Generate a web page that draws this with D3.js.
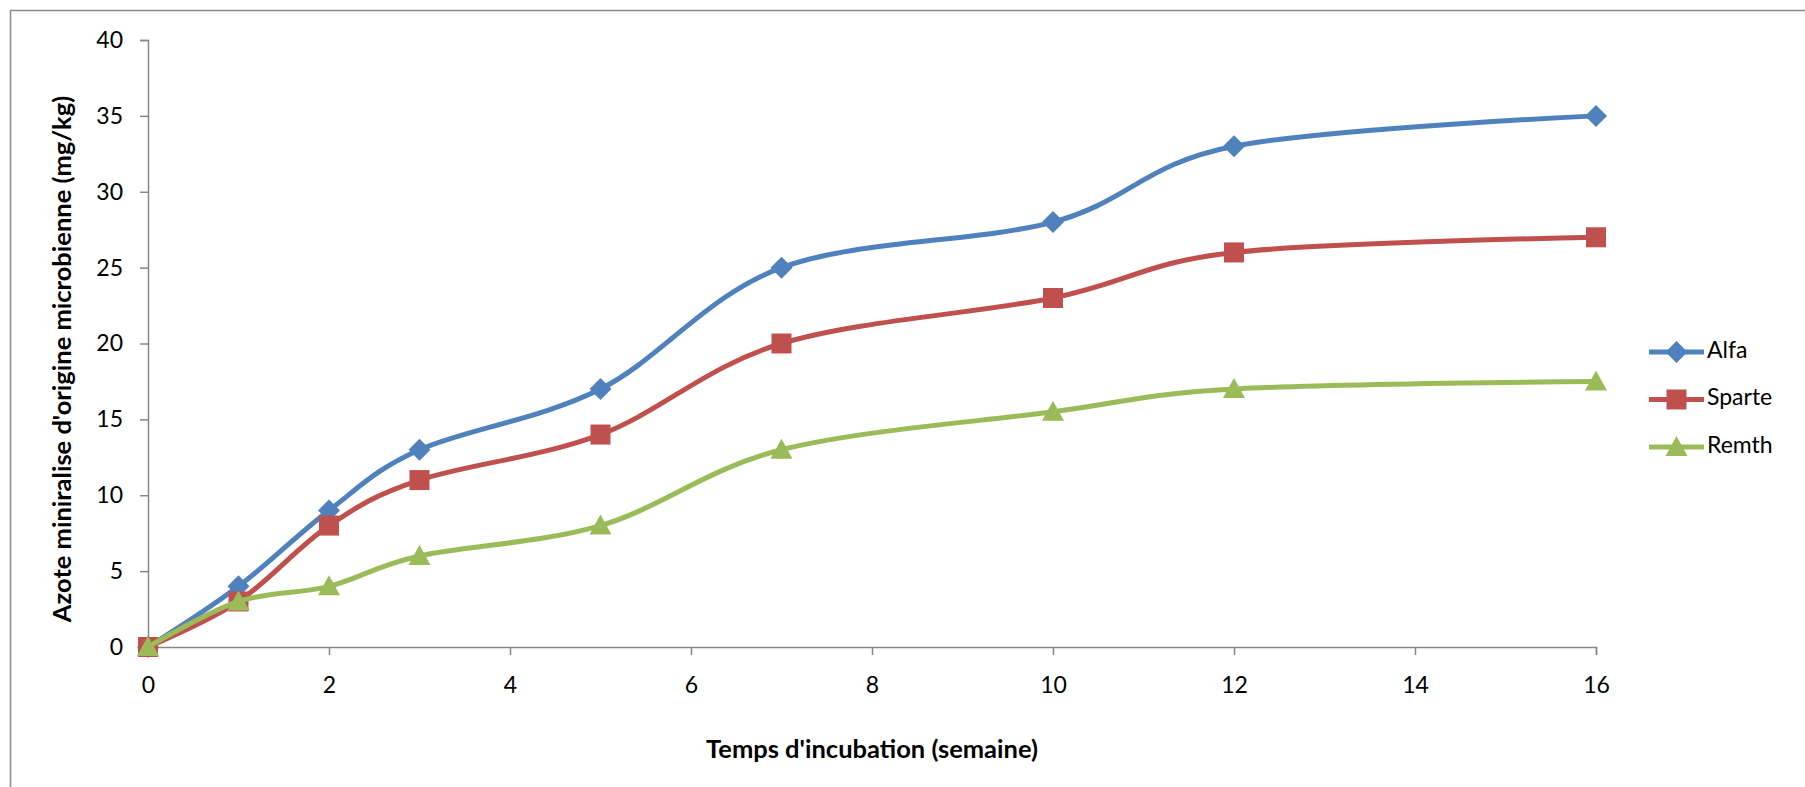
<!DOCTYPE html>
<html>
<head>
<meta charset="utf-8">
<script src="https://cdn.jsdelivr.net/npm/d3@7"></script>
<style>
  html, body { margin: 0; padding: 0; background: #fff; }
  svg { display: block; }
  text { font-family: Lato, "Open Sans", sans-serif; fill: #000; }
</style>
</head>
<body>
<svg id="chart" width="1805" height="787"></svg>
<script>
// Incubation time (weeks) and mineralised microbial nitrogen (mg/kg)
const weeks  = [0, 1, 2, 3, 5, 7, 10, 12, 16];
const alfa   = [0, 4, 9, 13, 17, 25, 28, 33, 35];
const sparte = [0, 3, 8, 11, 14, 20, 23, 26, 27];
const remth  = [0, 3, 4, 6, 8, 13, 15.5, 17, 17.5];
const seriesNames = ["Alfa", "Sparte", "Remth"];
const xTicks = [0, 2, 4, 6, 8, 10, 12, 14, 16];
const yTicks = [0, 5, 10, 15, 20, 25, 30, 35, 40];

const colors  = { Alfa: "#4F81BD", Sparte: "#C0504D", Remth: "#9BBB59" };
const shapes  = { Alfa: "diamond", Sparte: "square", Remth: "triangle" };
const values  = { Alfa: alfa, Sparte: sparte, Remth: remth };

const svg = d3.select("#chart");
const axisColor = "#868686";
const tickFont = 23;
const titleFont = 25.5;

// Outer frame (runs past the right and bottom edges)
svg.append("rect")
  .attr("x", 10.5).attr("y", 10.5)
  .attr("width", 1900).attr("height", 900)
  .attr("fill", "none").attr("stroke", "#8c8c8c").attr("stroke-width", 1.5);

const x = d3.scaleLinear().domain([0, 16]).range([148, 1596]);
const y = d3.scaleLinear().domain([0, 40]).range([647, 40]);

// Y axis
const yAxis = svg.append("g").attr("transform", `translate(${x(0)},0)`)
  .call(d3.axisLeft(y).tickValues(yTicks).tickSize(8).tickPadding(17).tickFormat(d3.format("d")));
yAxis.select(".domain").attr("stroke", axisColor).attr("stroke-width", 1.5);
yAxis.selectAll(".tick line").attr("stroke", axisColor).attr("stroke-width", 1.5);
yAxis.selectAll(".tick text").attr("font-size", tickFont).attr("font-family", "Lato, sans-serif").attr("fill", "#000");

// X axis
const xAxis = svg.append("g").attr("transform", `translate(0,${y(0)})`)
  .call(d3.axisBottom(x).tickValues(xTicks).tickSize(8).tickPadding(22).tickFormat(d3.format("d")));
xAxis.select(".domain").attr("stroke", axisColor).attr("stroke-width", 1.5);
xAxis.selectAll(".tick line").attr("stroke", axisColor).attr("stroke-width", 1.5);
xAxis.selectAll(".tick text").attr("font-size", tickFont).attr("font-family", "Lato, sans-serif").attr("fill", "#000");

// Axis titles
svg.append("text")
  .attr("x", (x(0) + x(16)) / 2).attr("y", 751)
  .attr("text-anchor", "middle").attr("dominant-baseline", "middle")
  .attr("font-size", titleFont).attr("font-weight", "bold")
  .text("Temps d'incubation (semaine)");

svg.append("text")
  .attr("transform", "translate(64,359) rotate(-90)")
  .attr("text-anchor", "middle").attr("dominant-baseline", "middle")
  .attr("font-size", titleFont).attr("font-weight", "bold")
  .text("Azote miniralise d'origine microbienne (mg/kg)");

// Marker path generator, centred on the origin
function markerPath(shape) {
  if (shape === "diamond") return "M0,-11L11,0L0,11L-11,0Z";
  if (shape === "square") return "M-10,-10H10V10H-10Z";
  return "M0,-11L11,9H-11Z";
}

const line = d3.line()
  .x((d, i) => x(weeks[i]))
  .y(d => y(d))
  .curve(d3.curveCardinal.tension(0));

seriesNames.forEach(name => {
  const g = svg.append("g").attr("class", "series");
  g.append("path")
    .datum(values[name])
    .attr("d", line)
    .attr("fill", "none")
    .attr("stroke", colors[name])
    .attr("stroke-width", 5)
    .attr("stroke-linejoin", "round")
    .attr("stroke-linecap", "round");
  g.selectAll("path.marker")
    .data(values[name])
    .join("path")
    .attr("class", "marker")
    .attr("transform", (d, i) => `translate(${x(weeks[i])},${y(d)})`)
    .attr("d", markerPath(shapes[name]))
    .attr("fill", colors[name]);
});

// Legend
const legend = svg.append("g").attr("transform", "translate(1649,352)");
seriesNames.forEach((name, i) => {
  const row = legend.append("g").attr("transform", `translate(0,${i * 47.5})`);
  row.append("line")
    .attr("x1", 0).attr("x2", 55).attr("y1", 0).attr("y2", 0)
    .attr("stroke", colors[name]).attr("stroke-width", 5);
  row.append("path")
    .attr("transform", "translate(27.5,0)")
    .attr("d", markerPath(shapes[name]))
    .attr("fill", colors[name]);
  row.append("text")
    .attr("x", 58).attr("y", 0)
    .attr("dominant-baseline", "middle")
    .attr("font-size", tickFont)
    .text(name);
});
</script>
</body>
</html>
